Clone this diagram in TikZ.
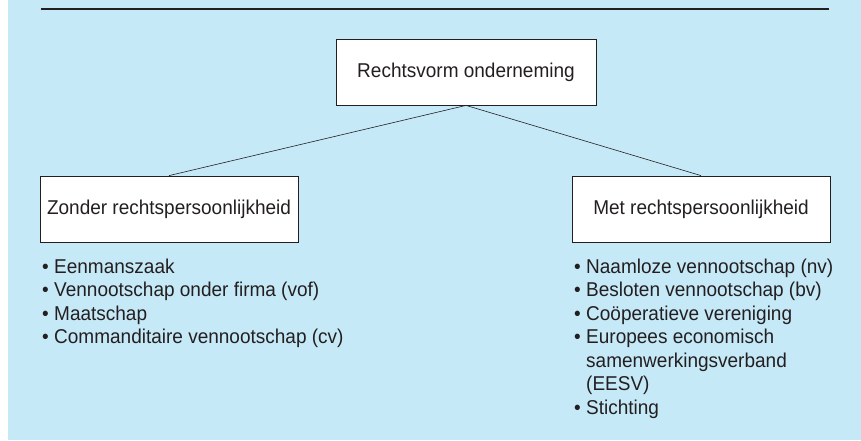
\documentclass[tikz,border=0pt]{standalone}
\usepackage{fontspec}
\setmainfont{Liberation Sans}[FakeStretch=0.95]
\definecolor{bgblue}{RGB}{198,233,248}
\definecolor{inkgray}{RGB}{35,31,32}
\tikzset{
  vorm/.style={draw=inkgray,fill=white,line width=0.8pt,minimum width=258pt,minimum height=66pt,inner sep=0pt,text=inkgray,font=\fontsize{20}{23.5}\selectfont},
  lijst/.style={anchor=north west,inner sep=0pt,text=inkgray,font=\fontsize{20}{23.5}\selectfont},
  tak/.style={draw=inkgray,line width=0.6pt},
}
\newcommand{\punt}{\makebox[12pt][l]{\textbullet}}
\newcommand{\opsom}[1]{\begin{tabular}{@{}l@{}l@{}}#1\end{tabular}}

\begin{document}
\begin{tikzpicture}[x=1pt,y=-1pt]
    \useasboundingbox (0,0) rectangle (861,440);
    \fill[bgblue] (8,0) rectangle (861,440);
    \draw[inkgray,line width=2pt] (41,8.5) -- (829,8.5);
    \node[vorm,minimum width=260pt] (rechtsvorm) at (466,72) {Rechtsvorm onderneming};
    \node[vorm] (zonder) at (169,209) {Zonder rechtspersoonlijkheid};
    \node[vorm] (met) at (701,209) {Met rechtspersoonlijkheid};
    \draw[tak] (rechtsvorm.south) -- (zonder.north);
    \draw[tak] (rechtsvorm.south) -- (met.north);
    \node[lijst] (zonderlijst) at (42,256.5) {\opsom{
        \punt & Eenmanszaak\\
        \punt & Vennootschap onder firma (vof)\\
        \punt & Maatschap\\
        \punt & Commanditaire vennootschap (cv)}};
    \node[lijst] (metlijst) at (574,256.5) {\opsom{
        \punt & Naamloze vennootschap (nv)\\
        \punt & Besloten vennootschap (bv)\\
        \punt & Coöperatieve vereniging\\
        \punt & Europees economisch\\
              & samenwerkingsverband\\
              & (EESV)\\
        \punt & Stichting}};
\end{tikzpicture}
\end{document}
